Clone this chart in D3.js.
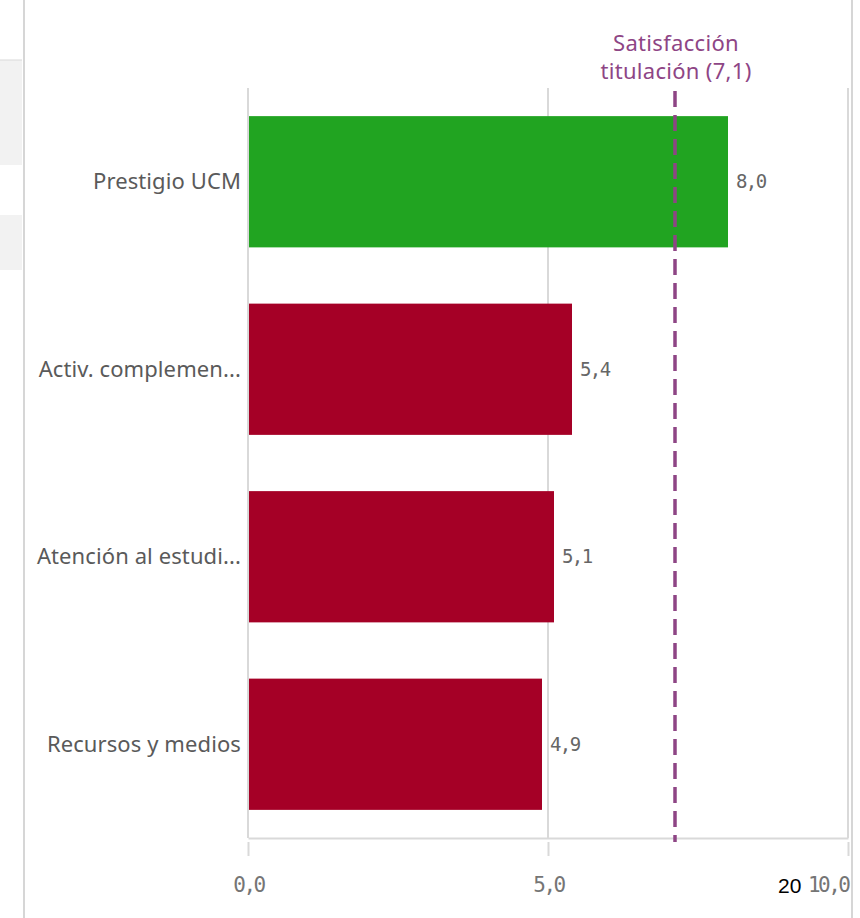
<!DOCTYPE html>
<html>
<head>
<meta charset="utf-8">
<script src="https://cdn.jsdelivr.net/npm/d3@7"></script>
<style>
  body { margin: 0; background: #fff; }
  svg { display: block; }
</style>
</head>
<body>
<svg id="chart" width="860" height="918"></svg>
<script>
// data
const categories = ["Prestigio UCM", "Activ. complemen...", "Atención al estudi...", "Recursos y medios"];
const values = [8.0, 5.4, 5.1, 4.9];
const barColors = ["#21a421", "#a50026", "#a50026", "#a50026"];
const xTicks = [0, 5, 10];
const refValue = 7.1;
const refLabel = ["Satisfacción", "titulación (7,1)"];

const svg = d3.select("#chart");
const fmt = v => d3.format(".1f")(v).replace(".", ",");
const mono = "'DejaVu Sans Mono', monospace";
const sans = "'Noto Sans', sans-serif";

// left side panel remnant
const side = svg.append("g");
side.append("rect").attr("x", 0).attr("y", 60).attr("width", 22).attr("height", 105).attr("fill", "#f2f2f2");
side.append("rect").attr("x", 0).attr("y", 215).attr("width", 22).attr("height", 55).attr("fill", "#f2f2f2");
side.append("line").attr("x1", 0).attr("x2", 22).attr("y1", 60).attr("y2", 60).attr("stroke", "#d9d9d9");
side.append("line").attr("x1", 24).attr("x2", 24).attr("y1", 0).attr("y2", 918).attr("stroke", "#d6d6d6").attr("stroke-width", 2);
side.append("line").attr("x1", 852).attr("x2", 852).attr("y1", 0).attr("y2", 918).attr("stroke", "#d6d6d6").attr("stroke-width", 2);

const x = d3.scaleLinear().domain([0, 10]).range([248, 848]);
const y = d3.scaleBand().domain(categories).range([88, 838]).paddingInner(0.3).paddingOuter(0.15);

// grid lines
svg.append("g")
    .selectAll("line")
    .data(xTicks)
    .enter()
    .append("line")
    .attr("x1", d => x(d)).attr("x2", d => x(d))
    .attr("y1", 88).attr("y2", 838)
    .attr("stroke", "#d9d9d9").attr("stroke-width", 2);

// bottom axis
const axis = svg.append("g").attr("transform", "translate(0,838)")
    .call(d3.axisBottom(x).tickValues(xTicks).tickSize(0).tickFormat(fmt));
axis.select(".domain").attr("stroke", "#d9d9d9").attr("stroke-width", 2);
axis.selectAll(".tick").append("line")
    .attr("y1", 4).attr("y2", 18).attr("stroke", "#d9d9d9").attr("stroke-width", 2);
axis.selectAll("text")
    .attr("y", 47)
    .attr("dy", "0.35em")
    .attr("font-family", mono)
    .attr("font-size", 21)
    .attr("letter-spacing", -2.5)
    .attr("fill", "#757575")
    .attr("text-anchor", (d, i) => i === xTicks.length - 1 ? "end" : "middle");

// bars
svg.append("g")
    .selectAll("rect")
    .data(values)
    .enter()
    .append("rect")
    .attr("x", x(0) + 1)
    .attr("y", (d, i) => y(categories[i]))
    .attr("width", d => x(d) - x(0) - 1)
    .attr("height", y.bandwidth())
    .attr("fill", (d, i) => barColors[i]);

// value labels
svg.append("g")
    .selectAll("text")
    .data(values)
    .enter()
    .append("text")
    .attr("x", d => x(d) + 8)
    .attr("y", (d, i) => y(categories[i]) + y.bandwidth() / 2)
    .attr("dy", "0.35em")
    .attr("font-family", mono)
    .attr("font-size", 19)
    .attr("letter-spacing", -1.6)
    .attr("fill", "#666")
    .text(d => fmt(d));

// category labels
svg.append("g")
    .selectAll("text")
    .data(categories)
    .enter()
    .append("text")
    .attr("x", 241)
    .attr("y", d => y(d) + y.bandwidth() / 2)
    .attr("dy", "0.35em")
    .attr("text-anchor", "end")
    .attr("font-family", sans)
    .attr("font-size", 22)
    .attr("letter-spacing", 0.1)
    .attr("fill", "#5a5a5a")
    .text(d => d);

// reference line
svg.append("line")
    .attr("x1", x(refValue) + 1).attr("x2", x(refValue) + 1)
    .attr("y1", 91).attr("y2", 842)
    .attr("stroke", "#8e4585").attr("stroke-width", 3.5)
    .attr("stroke-dasharray", "16,8");

svg.append("g")
    .selectAll("text")
    .data(refLabel)
    .enter()
    .append("text")
    .attr("x", x(refValue) + 2)
    .attr("y", (d, i) => 43 + i * 28)
    .attr("dy", "0.35em")
    .attr("text-anchor", "middle")
    .attr("font-family", sans)
    .attr("font-size", 22)
    .attr("letter-spacing", 0.3)
    .attr("fill", "#8e4585")
    .text(d => d);

// stray label in the reference
svg.append("text")
    .attr("x", 778).attr("y", 893)
    .attr("font-family", "'Liberation Sans', sans-serif")
    .attr("font-size", 21)
    .attr("fill", "#000")
    .text("20");
</script>
</body>
</html>
